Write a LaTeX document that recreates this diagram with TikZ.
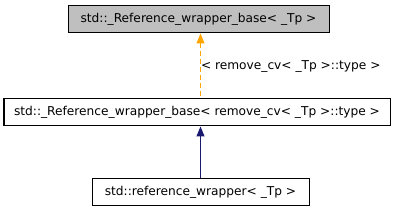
\documentclass[tikz,border=0pt]{standalone}
\usepackage{fontspec}
\setmainfont{DejaVu Sans}
\usepackage{xcolor}
\usetikzlibrary{arrows.meta}
\definecolor{edgeorange}{HTML}{FFA500}
\definecolor{edgeblue}{HTML}{191970}
\definecolor{basegrey}{HTML}{BFBFBF}
\tikzset{
  cbox/.style={draw=black, fill=white, line width=1pt, minimum height=27pt, inner sep=0pt, font=\fontsize{12.2}{14}\selectfont},
  cboxcur/.style={cbox, fill=basegrey},
  carrow/.style={{Triangle[length=10pt, width=8pt]}-, line width=1pt, edgeblue},
  carrowtpl/.style={carrow, edgeorange, dash pattern=on 5pt off 3pt},
  clabel/.style={font=\fontsize{12.2}{14}\selectfont, text=black, anchor=west, inner sep=0pt},
}
\begin{document}
\begin{tikzpicture}[x=1pt, y=-1pt]
  \useasboundingbox (0,0) rectangle (400,213);
  \node[cboxcur, minimum width=261pt] (base) at (198.5,19.5) {std::\_Reference\_wrapper\_base< \_Tp >};
  \node[cbox, minimum width=386pt] (mid) at (197,112.5) {std::\_Reference\_wrapper\_base< remove\_cv< \_Tp >::type >};
  \node[cbox, minimum width=217pt] (ref) at (200.5,192.5) {std::reference\_wrapper< \_Tp >};
  \draw[carrowtpl] (base.south -| ref.north) -- node[clabel, pos=0.5] {< remove\_cv< \_Tp >::type >} (mid.north -| ref.north);
  \draw[carrow] (mid.south -| ref.north) -- (ref.north);
\end{tikzpicture}
\end{document}
